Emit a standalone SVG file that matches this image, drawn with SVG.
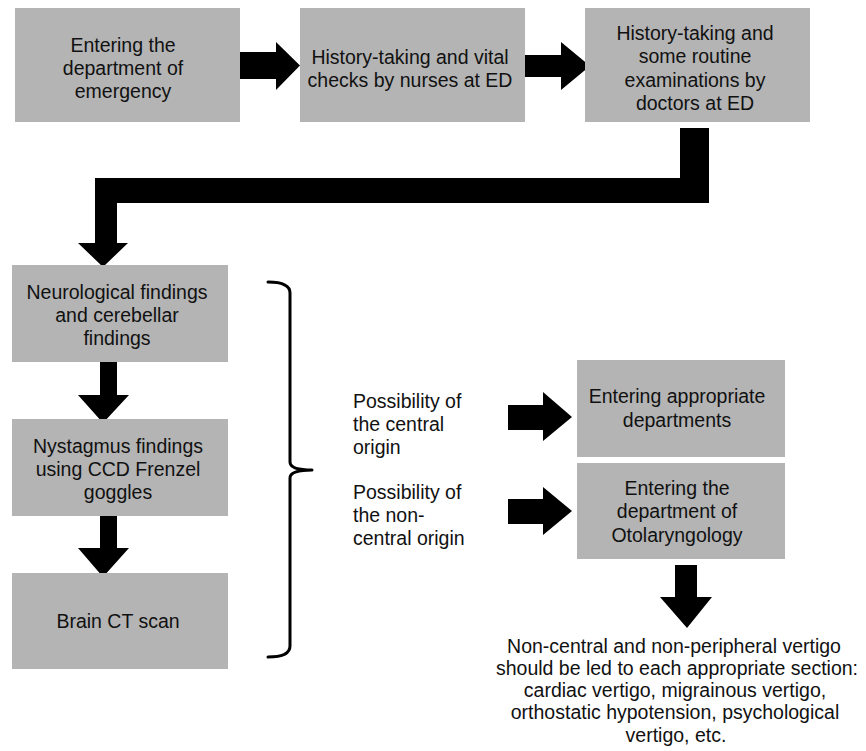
<svg xmlns="http://www.w3.org/2000/svg" width="866" height="751" viewBox="0 0 866 751">
<style>
.box{fill:#b4b4b4;}
.t{font-family:"Liberation Sans",Arial,Helvetica,sans-serif;font-size:19.5px;fill:#111;text-anchor:middle;}
.l{font-family:"Liberation Sans",Arial,Helvetica,sans-serif;font-size:19.5px;fill:#111;text-anchor:start;}
.arr{fill:#000;}
.brace{fill:none;stroke:#000;stroke-width:3;stroke-linecap:round;stroke-linejoin:round;}
</style>
<rect width="866" height="751" fill="#fff"/>
<g id="connectors">
<polygon class="arr" points="237,52 276,52 276,42 300,65.5 276,90 276,79 237,79"/>
<polygon class="arr" points="521,55 561,55 561,42 590,66 561,90 561,77 521,77"/>
<polygon class="arr" points="680,128 709,128 709,203 117,203 117,243 128,243 103,267 78,243 95,243 95,178 680,178"/>
<polygon class="arr" points="100,362 117,362 117,395 129,395 103,423 78,395 100,395"/>
<polygon class="arr" points="100,516 117,516 117,548 129,548 103,577 78,548 100,548"/>
<polygon class="arr" points="508,405 543,405 543,392 572,417 543,441 543,430 508,430"/>
<polygon class="arr" points="508,499 543,499 543,487 572,511 543,535 543,524 508,524"/>
<polygon class="arr" points="675,565 697,565 697,597 712,597 687,628 660,597 675,597"/>
<path class="brace" d="M268,282 Q290,282 290,293 L290,462 Q290,470 312,470 Q290,470 290,478 L290,646 Q290,657 268,657"/>
</g>
<g id="n1">
<rect class="box" x="15" y="8" width="225" height="114"/>
<text class="t" x="123" y="52">Entering the</text>
<text class="t" x="123" y="75">department of</text>
<text class="t" x="123" y="98">emergency</text>
</g>
<g id="n2">
<rect class="box" x="300" y="8" width="225" height="114"/>
<text class="t" x="410" y="64">History-taking and vital</text>
<text class="t" x="410" y="87">checks by nurses at ED</text>
</g>
<g id="n3">
<rect class="box" x="585" y="8" width="225" height="114"/>
<text class="t" x="695" y="40">History-taking and</text>
<text class="t" x="695" y="63">some routine</text>
<text class="t" x="695" y="87">examinations by</text>
<text class="t" x="695" y="110">doctors at ED</text>
</g>
<g id="n4">
<rect class="box" x="12" y="265" width="216" height="97"/>
<text class="t" x="117" y="299">Neurological findings</text>
<text class="t" x="117" y="322">and cerebellar</text>
<text class="t" x="117" y="345">findings</text>
</g>
<g id="n5">
<rect class="box" x="12" y="419" width="216" height="97"/>
<text class="t" x="118" y="453">Nystagmus findings</text>
<text class="t" x="118" y="476">using CCD Frenzel</text>
<text class="t" x="118" y="499">goggles</text>
</g>
<g id="n6">
<rect class="box" x="12" y="573" width="216" height="96"/>
<text class="t" x="118" y="628">Brain CT scan</text>
</g>
<g id="label-central">
<text class="l" x="353" y="408">Possibility of</text>
<text class="l" x="353" y="431">the central</text>
<text class="l" x="353" y="454">origin</text>
</g>
<g id="label-noncentral">
<text class="l" x="353" y="499">Possibility of</text>
<text class="l" x="353" y="522">the non-</text>
<text class="l" x="353" y="545">central origin</text>
</g>
<g id="n7">
<rect class="box" x="577" y="360" width="208" height="97"/>
<text class="t" x="677" y="403">Entering appropriate</text>
<text class="t" x="677" y="427">departments</text>
</g>
<g id="n8">
<rect class="box" x="577" y="463" width="208" height="96"/>
<text class="t" x="677" y="495">Entering the</text>
<text class="t" x="677" y="518">department of</text>
<text class="t" x="677" y="542">Otolaryngology</text>
</g>
<g id="n9">
<text class="t" x="674" y="653">Non-central and non-peripheral vertigo</text>
<text class="t" x="677" y="675">should be led to each appropriate section:</text>
<text class="t" x="675" y="697">cardiac vertigo, migrainous vertigo,</text>
<text class="t" x="675" y="719">orthostatic hypotension, psychological</text>
<text class="t" x="676" y="742">vertigo, etc.</text>
</g>
</svg>
